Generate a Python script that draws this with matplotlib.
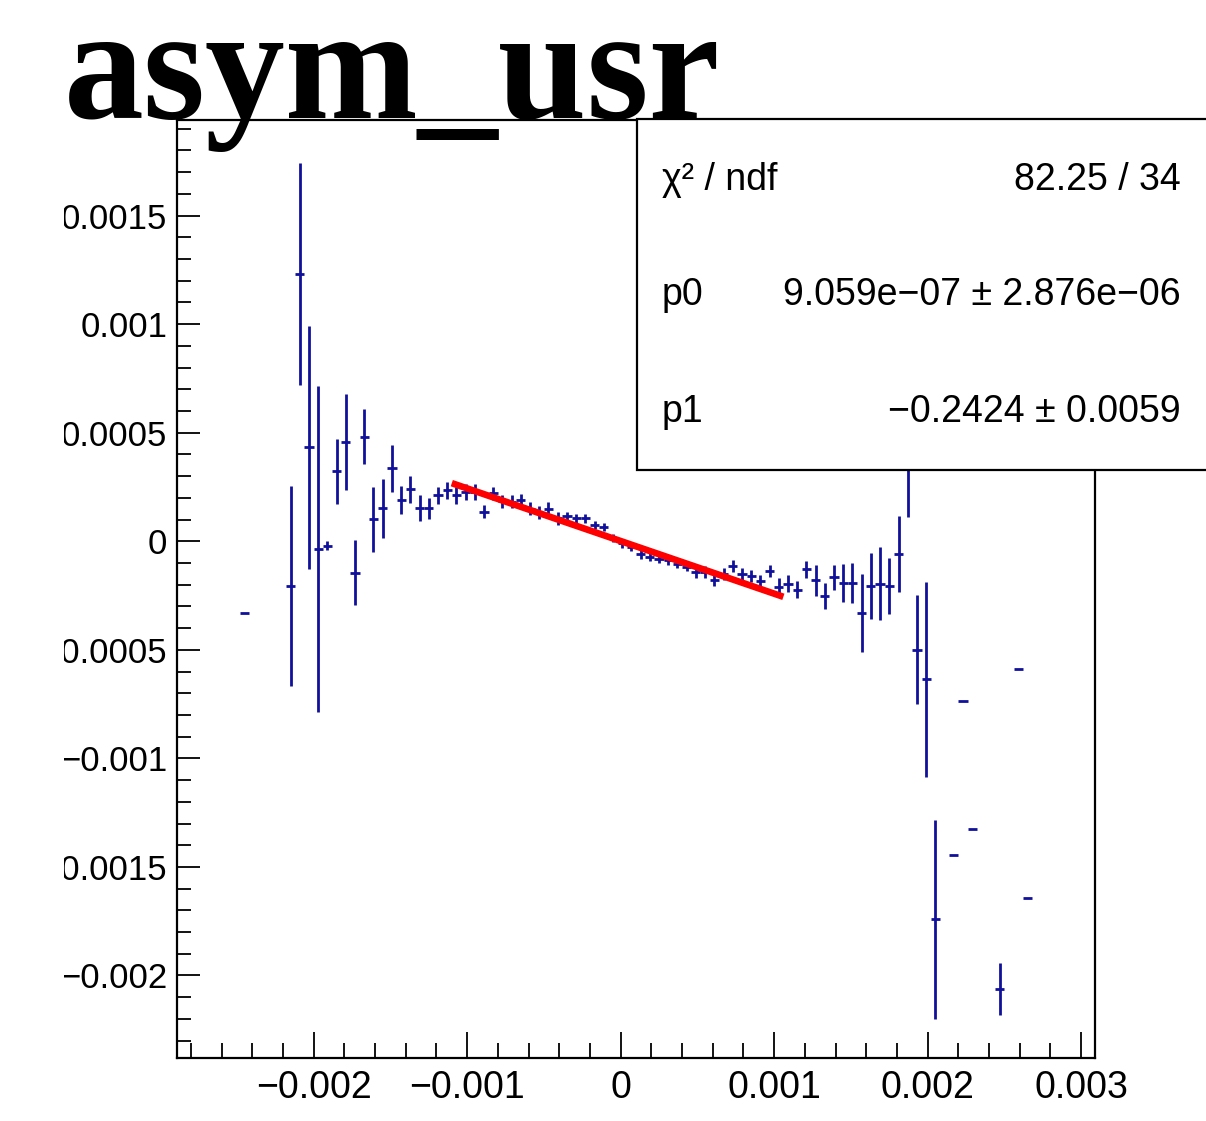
import matplotlib
matplotlib.use("Agg")
import matplotlib.pyplot as plt
from matplotlib.patches import Rectangle
from matplotlib.ticker import FixedLocator, MultipleLocator, FuncFormatter
from matplotlib.transforms import Bbox, TransformedBbox

# bin centres, contents and errors
x_vals = [-0.00245, -0.00215, -0.00209, -0.00203, -0.00197, -0.00191, -0.00185, -0.00179,
          -0.00173, -0.00167, -0.00161, -0.00155, -0.00149, -0.00143, -0.00137, -0.00131,
          -0.00125, -0.00119, -0.00113, -0.00107, -0.00101, -0.00095, -0.00089, -0.00083,
          -0.00077, -0.00071, -0.00065, -0.00059, -0.00053, -0.00047, -0.00041, -0.00035,
          -0.00029, -0.00023, -0.00017, -0.00011, -0.00005, 0.00001, 0.00007, 0.00013,
          0.00019, 0.00025, 0.00031, 0.00037, 0.00043, 0.00049, 0.00055, 0.00061,
          0.00067, 0.00073, 0.00079, 0.00085, 0.00091, 0.00097, 0.00103, 0.00109,
          0.00115, 0.00121, 0.00127, 0.00133, 0.00139, 0.00145, 0.00151, 0.00157,
          0.00163, 0.00169, 0.00175, 0.00181, 0.00187, 0.00193, 0.00199, 0.00205,
          0.00217, 0.00223, 0.00229, 0.00247, 0.00259, 0.00265]
y_vals = [-0.00033, -0.000207, 0.00123, 0.000433, -0.000036, -0.000021, 0.000322, 0.000458,
          -0.000145, 0.000481, 0.000102, 0.000151, 0.000335, 0.00019, 0.00024, 0.000151,
          0.000151, 0.000211, 0.000235, 0.000212, 0.000227, 0.000227, 0.000135, 0.000222,
          0.000184, 0.000181, 0.000189, 0.00015, 0.000132, 0.00015, 0.000105, 0.000115,
          0.000105, 0.000105, 0.000075, 0.000066, 0.000015, -0.00001, -0.000026, -0.000061,
          -0.000072, -0.00008, -0.000088, -0.000103, -0.000118, -0.000141, -0.000141, -0.00018,
          -0.000149, -0.000115, -0.000149, -0.000161, -0.000183, -0.000137, -0.00021, -0.000195,
          -0.000223, -0.00013, -0.00018, -0.000253, -0.000167, -0.000192, -0.000192, -0.00033,
          -0.000206, -0.000195, -0.000206, -0.00006, 0.00045, -0.000499, -0.000636, -0.001742,
          -0.001447, -0.000734, -0.001324, -0.002061, -0.000587, -0.001644]
y_errs = [0.0, 0.00046, 0.00051, 0.00056, 0.00075, 0.00002, 0.00015, 0.00022,
          0.00015, 0.000127, 0.00015, 0.000136, 0.00011, 0.000066, 0.000062, 0.00006,
          0.00005, 0.00004, 0.00004, 0.00004, 0.000035, 0.000035, 0.00003, 0.00003,
          0.00003, 0.00003, 0.00003, 0.00003, 0.00003, 0.00003, 0.00003, 0.00002,
          0.00002, 0.00002, 0.00002, 0.00002, 0.00002, 0.00002, 0.00002, 0.00002,
          0.00002, 0.00002, 0.00002, 0.00002, 0.00002, 0.000028, 0.000028, 0.000028,
          0.000028, 0.000028, 0.000028, 0.000028, 0.000028, 0.000028, 0.00004, 0.00004,
          0.00004, 0.000038, 0.00007, 0.00006, 0.000058, 0.000089, 0.000094, 0.00018,
          0.00015, 0.00017, 0.000127, 0.000174, 0.00034, 0.00025, 0.00045, 0.00046,
          0.0, 0.0, 0.0, 0.00012, 0.0, 0.0]
bin_half = 0.00003

# pol1 fit
p0 = 9.059e-07
p1 = -0.2424
fit_range = [-0.0011, 0.00106]

x_ticks = [-0.002, -0.001, 0, 0.001, 0.002, 0.003]
y_ticks = [-0.002, -0.0015, -0.001, -0.0005, 0, 0.0005, 0.001, 0.0015]

plt.rcParams['font.family'] = ['Liberation Sans', 'DejaVu Sans']

fig = plt.figure(figsize=(12.06, 11.21), dpi=100)
ax = fig.add_axes([177/1206, 63/1121, 918/1206, 938/1121])

blue = '#10109a'
ax.errorbar(x_vals, y_vals, xerr=bin_half, yerr=y_errs, fmt='none',
            ecolor=blue, elinewidth=2.0, capsize=0, zorder=2)

fx = fit_range
fy = [p0 + p1 * v for v in fx]
ax.plot(fx, fy, color='#ff0000', lw=4.8, solid_capstyle='butt', zorder=3)

ax.set_xlim(-0.00289, 0.00309)
ax.set_ylim(-0.00238, 0.00194)

def fmt(v, pos):
    s = '%g' % v
    return s.replace('-', '\u2212')

ax.xaxis.set_major_locator(FixedLocator(x_ticks))
ax.xaxis.set_minor_locator(MultipleLocator(0.0002))
ax.yaxis.set_major_locator(FixedLocator(y_ticks))
ax.yaxis.set_minor_locator(MultipleLocator(0.0001))
ax.xaxis.set_major_formatter(FuncFormatter(fmt))
ax.yaxis.set_major_formatter(FuncFormatter(fmt))

ax.tick_params(axis='x', which='major', direction='in', length=19, width=1.3,
               labelsize=27, pad=9, top=False)
ax.tick_params(axis='x', which='minor', direction='in', length=10.5, width=1.3, top=False)
ax.tick_params(axis='y', which='major', direction='in', length=16.5, width=1.3,
               labelsize=25, pad=7, right=False)
ax.tick_params(axis='y', which='minor', direction='in', length=10, width=1.3, right=False)
for sp in ax.spines.values():
    sp.set_linewidth(1.6)

# stats box
box = Rectangle((637/1206, 1 - 470/1121), 0.6, 351/1121, transform=fig.transFigure,
                facecolor='white', edgecolor='black', lw=1.6, zorder=5)
fig.patches.append(box)
rows = [('\u03c7\u00b2 / ndf', '82.25 / 34', 180),
        ('p0', '9.059e\u221207 \u00b1 2.876e\u221206', 295),
        ('p1', '\u22120.2424 \u00b1 0.0059', 412)]
for name, val, ypx in rows:
    fig.text(662/1206, 1 - ypx/1121, name, fontsize=27, ha='left', va='center', zorder=6)
    fig.text(1181/1206, 1 - ypx/1121, val, fontsize=27, ha='right', va='center', zorder=6)

fig.text(64/1206, 1 - 118/1121, 'asym_usr', fontsize=115, fontweight='bold',
         family='Liberation Serif', ha='left', va='baseline', zorder=7)

# y labels are cut by the pad edge in the original
fig.canvas.draw()
clip = TransformedBbox(Bbox.from_extents(64/1206, 0, 1, 1), fig.transFigure)
for t in ax.yaxis.get_major_ticks():
    t.label1.set_clip_on(True)
    t.label1.set_clip_box(clip)

fig.savefig('out.png', dpi=100)
